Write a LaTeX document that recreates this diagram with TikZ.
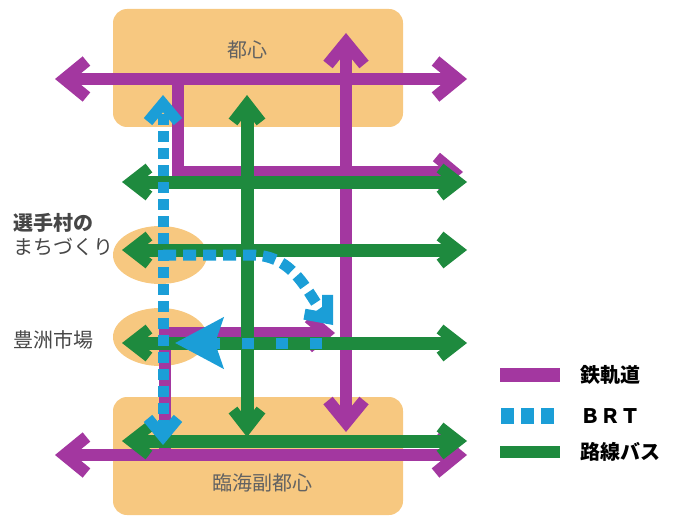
\documentclass[tikz,border=0pt]{standalone}
\usepackage{fontspec}
\setmainfont{Noto Sans CJK JP}
\usetikzlibrary{positioning, shapes.geometric, arrows.meta}
\definecolor{railc}{RGB}{163,55,160}
\definecolor{busc}{RGB}{30,138,62}
\definecolor{brtc}{RGB}{27,158,215}
\definecolor{areac}{RGB}{247,200,128}
\definecolor{labelc}{RGB}{70,70,70}
\tikzset{
    railtip/.tip={Straight Barb[length=22pt, width=36pt, line width=12pt, sharp]},
    railendtip/.tip={Straight Barb[length=18pt, width=30pt, line width=11pt, sharp]},
    bustip/.tip={Straight Barb[length=18pt, width=28pt, line width=11pt, sharp]},
    brttip/.tip={Straight Barb[length=18pt, width=30pt, line width=11pt, sharp]},
    rail/.style={draw=railc, line width=12pt, railtip-railtip},
    railend/.style={draw=railc, line width=12pt, -railendtip},
    bus/.style={draw=busc, line width=13pt, bustip-bustip},
    brt/.style={draw=brtc, line width=11pt, dash pattern=on 11pt off 6pt},
    area/.style={fill=areac, rounded corners=14pt, minimum width=290pt, minimum height=118pt},
    spot/.style={ellipse, fill=areac, minimum width=94pt, minimum height=58pt},
    lbl/.style={inner sep=0, text=labelc, font=\fontsize{20}{24}\selectfont},
    legbar/.style={inner sep=0, minimum width=60pt, minimum height=14pt},
    legdot/.style={inner sep=0, fill=brtc, minimum width=13pt, minimum height=16pt},
    legtxt/.style={inner sep=0, anchor=west, font=\fontsize{20}{24}\selectfont\bfseries}
}
\begin{document}
\begin{tikzpicture}[x=1pt, y=-1pt]
    \useasboundingbox (0,0) rectangle (674,516);

    % areas
    \node [area] (toshinarea) at (258,68) {};
    \node [area] (rinkaiarea) at (258,456) {};
    \node [spot] (senshuspot) at (160,255) {};
    \node [spot] (toyosuspot) at (160,337) {};

    % rail
    \coordinate (railtopW) at (55,79);
    \coordinate (railtopE) at (467,79);
    \coordinate (railbotW) at (55,455);
    \coordinate (railbotE) at (467,455);
    \coordinate (railvN) at (346,33);
    \coordinate (railvS) at (346,432);
    \coordinate (railaA) at (178,79);
    \coordinate (railaB) at (178,172);
    \coordinate (railaC) at (463,172);
    \coordinate (railbA) at (165,455);
    \coordinate (railbB) at (165,333);
    \coordinate (railbC) at (335,333);
    \draw [railend] (railaA) -- (railaB) -- (railaC);
    \draw [railend] (railbA) -- (railbB) -- (railbC);
    \draw [rail] (railtopW) -- (railtopE);
    \draw [rail] (railbotW) -- (railbotE);
    \draw [rail] (railvN) -- (railvS);

    % bus
    \foreach \y/\n in {182/a, 250/b, 343/c, 441/d} {
        \coordinate (busW\n) at (122,\y);
        \coordinate (busE\n) at (467,\y);
        \draw [bus] (busW\n) -- (busE\n);
    }
    \coordinate (busvN) at (247,95);
    \coordinate (busvS) at (247,437);
    \draw [bus] (busvN) -- (busvS);

    % BRT
    \coordinate (brtvN) at (163,95);
    \coordinate (brtvS) at (163,445);
    \coordinate (brtA) at (163,255);
    \coordinate (brtB) at (252,255);
    \coordinate (brtC) at (333,325);
    \coordinate (brtD) at (322,343);
    \coordinate (brtE) at (175,343);
    \draw [brt, brttip-brttip] (brtvS) -- (brtvN);
    \draw [brt, dash pattern=on 13pt off 7pt, -brttip]
        (brtA) -- (brtB) .. controls (295,255) and (308,295) .. (brtC);
    \draw [brt, dash pattern=on 12pt off 22pt, -{Stealth[length=48pt, width=50pt, inset=8pt]}] (brtD) -- (brtE);

    % labels
    \node [lbl, text=labelc!85] (toshin) at (247,50) {都心};
    \node [lbl, text=labelc!85] (rinkai) at (262,483) {臨海副都心};
    \node [lbl, anchor=west, font=\fontsize{20}{24}\selectfont\bfseries] (senshu) at (13,223) {選手村の};
    \node [lbl, anchor=west] (machi) at (13,247) {まちづくり};
    \node [lbl, anchor=west] (toyosu) at (13,340) {豊洲市場};

    % legend
    \node [legbar, fill=railc] (legrail) at (530,375) {};
    \node [legtxt, right=20pt of legrail] (legrailtxt) {鉄軌道};
    \foreach \x [count=\i] in {507,527,547}
        \node [legdot] (legbrt\i) at (\x,416) {};
    \node [legtxt] (legbrttxt) at (580,416) {ＢＲＴ};
    \node [legbar, fill=busc, minimum height=12pt] (legbus) at (530,452) {};
    \node [legtxt, right=20pt of legbus] (legbustxt) {路線バス};
\end{tikzpicture}
\end{document}
